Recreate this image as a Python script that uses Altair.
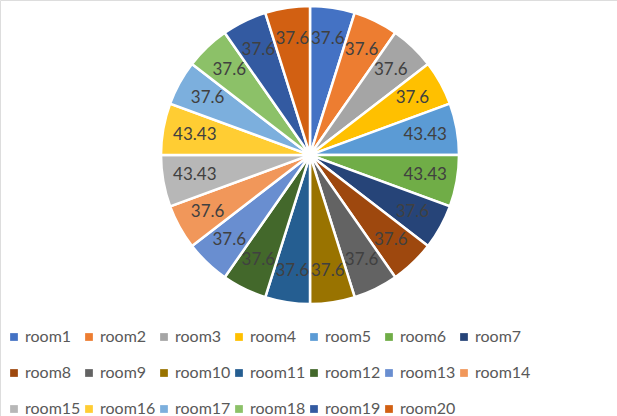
import altair as alt
import pandas as pd

# Room names and their values, drawn clockwise from 12 o'clock
rooms = [f"room{i}" for i in range(1, 21)]
values = [37.6, 37.6, 37.6, 37.6, 43.43, 43.43, 37.6, 37.6, 37.6, 37.6,
          37.6, 37.6, 37.6, 37.6, 43.43, 43.43, 37.6, 37.6, 37.6, 37.6]
labels = ["37.6", "37.6", "37.6", "37.6", "43.43", "43.43", "37.6", "37.6", "37.6", "37.6",
          "37.6", "37.6", "37.6", "37.6", "43.43", "43.43", "37.6", "37.6", "37.6", "37.6"]
palette = ["#4472C4", "#ED7D31", "#A5A5A5", "#FFC000", "#5B9BD5", "#70AD47",
           "#264478", "#9E480E", "#636363", "#997300", "#255E91", "#43682B",
           "#698ED0", "#F1975A", "#B7B7B7", "#FFCD33", "#7CAFDD", "#8CC168",
           "#335AA1", "#D26012"]

df = pd.DataFrame({
    "room": rooms,
    "value": values,
    "label": labels,
    "idx": list(range(len(rooms))),
})

cx, cy, r = 310, 155, 149

base = alt.Chart(df).encode(
    theta=alt.Theta("value:Q", stack=True),
    order=alt.Order("idx:Q", sort="ascending"),
    x=alt.value(cx),
    y=alt.value(cy),
)

slices = base.mark_arc(
    radius=r, innerRadius=4, stroke="white", strokeWidth=2.5
).encode(
    color=alt.Color(
        "room:N",
        sort=rooms,
        scale=alt.Scale(domain=rooms, range=palette),
        legend=alt.Legend(
            title=None,
            orient="none",
            direction="horizontal",
            legendX=6,
            legendY=329,
            columns=7,
            symbolType="square",
            symbolSize=60,
            symbolStrokeWidth=0,
            labelFont="Lato",
            labelFontSize=16,
            labelColor="#595959",
            labelOffset=3,
            columnPadding=0,
            rowPadding=20,
        ),
    )
)

text = base.mark_text(
    radius=117, font="Lato", fontSize=17, color="#404040"
).encode(text="label:N")

chart = (slices + text).properties(
    width=617, height=416,
    autosize=alt.AutoSizeParams(type="none"),
    padding=0,
).configure_view(stroke=None).configure(background="white")

chart.save("out.html", embed_options={"renderer": "svg", "actions": False})
